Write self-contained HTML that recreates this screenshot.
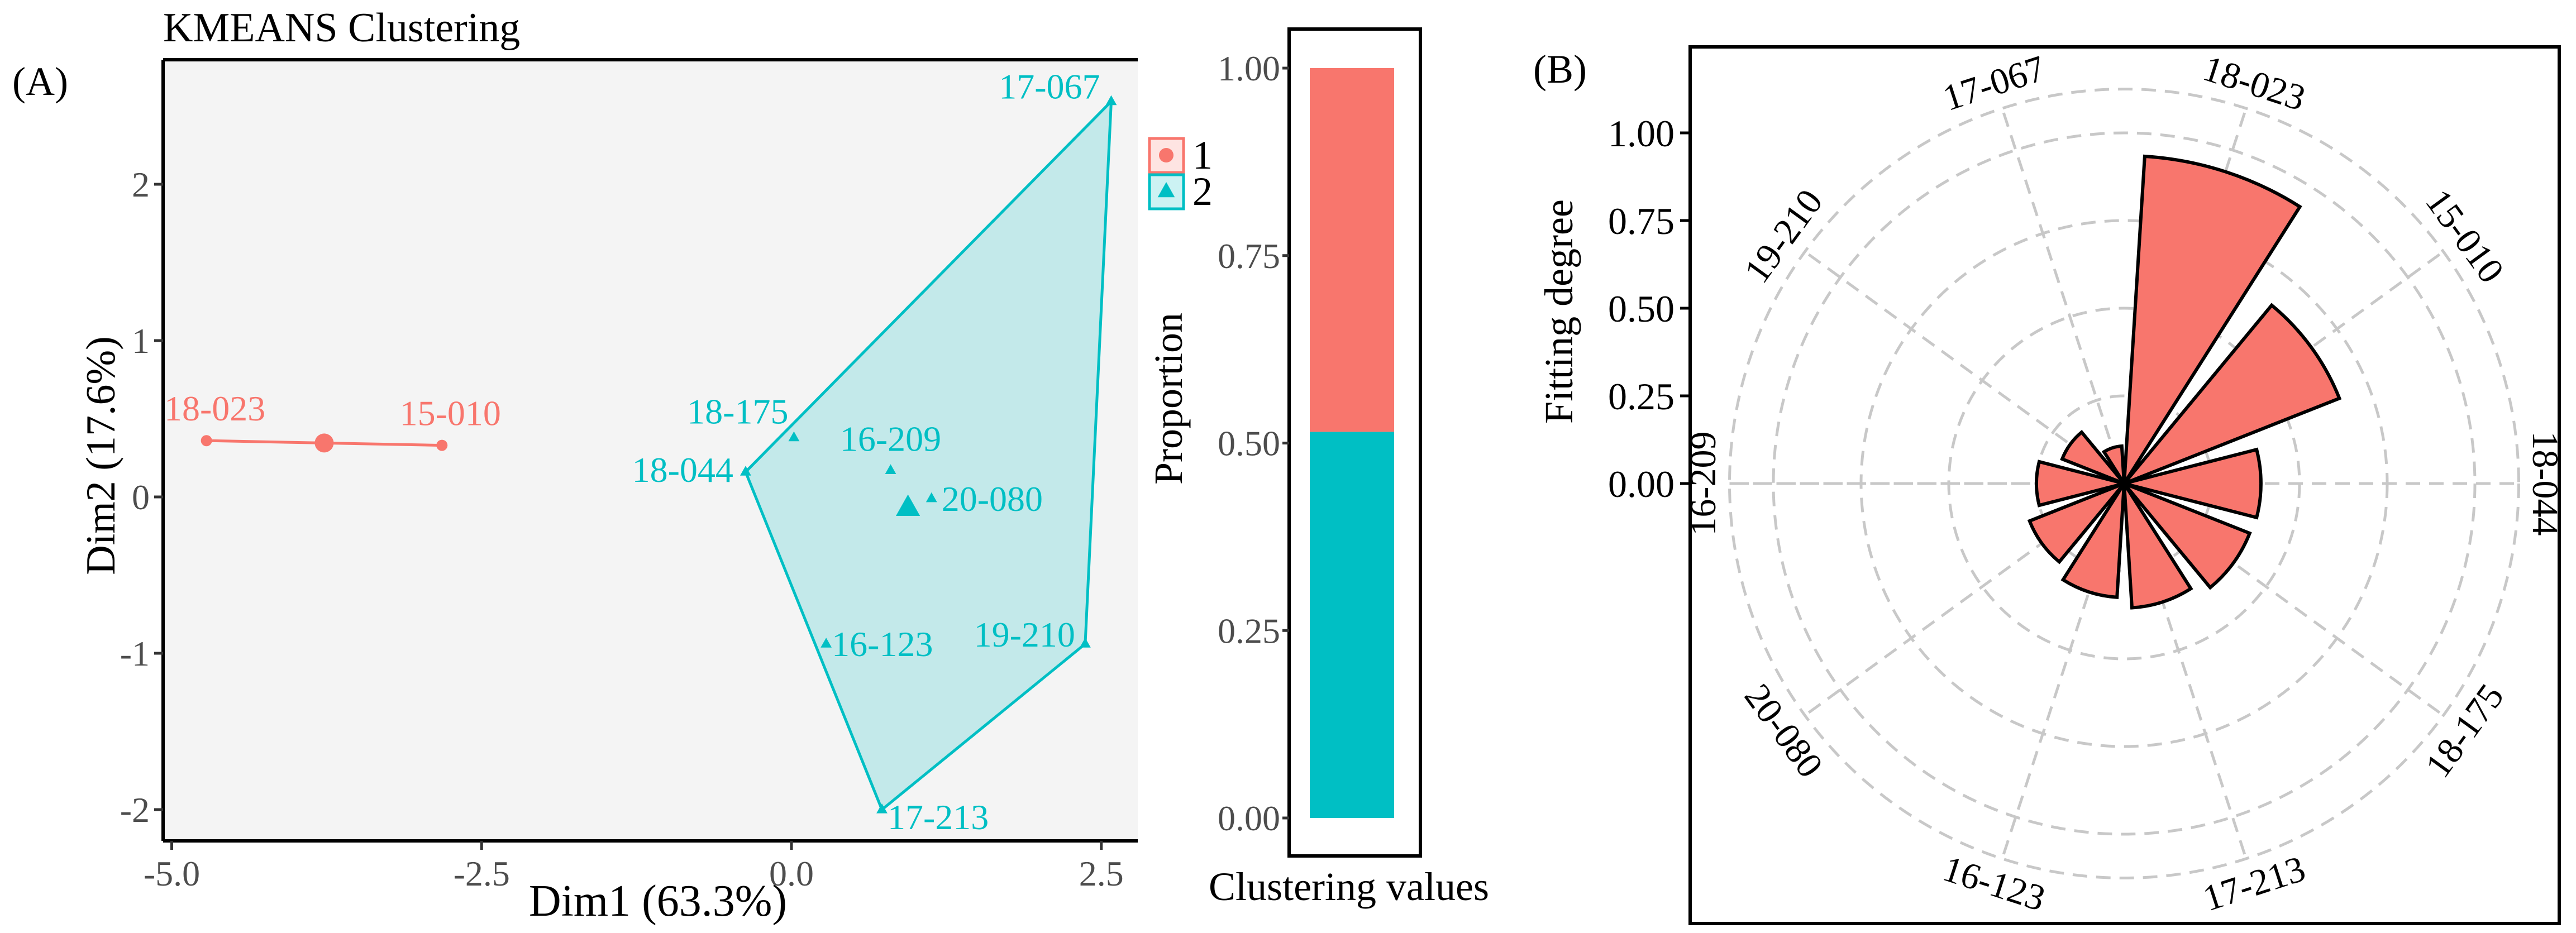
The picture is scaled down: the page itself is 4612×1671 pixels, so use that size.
<!DOCTYPE html>
<html><head><meta charset="utf-8"><style>
html,body{margin:0;padding:0;background:#fff}
svg{display:block;font-family:"Liberation Serif",serif}
</style></head><body>
<svg id="fig" width="4612" height="1671" viewBox="0 0 4612 1671" xmlns="http://www.w3.org/2000/svg">
<text x="22" y="170" font-size="72">(A)</text>
<text x="292" y="74" font-size="74">KMEANS Clustering</text>
<g id="pa"></g>
<g id="pb"></g>
<text x="2745" y="148" font-size="72">(B)</text>
<g id="pc"></g>
</svg>
<script>
// ---- Panel A data ----
const c1Names = ["18-023","15-010"];
const c1X = [-4.72,-2.82];
const c1Y = [0.36,0.33];
const c1Center = [-3.77,0.345];
const c2Names = ["17-067","18-175","18-044","16-209","20-080","16-123","19-210","17-213"];
const c2X = [2.58,0.02,-0.37,0.80,1.13,0.28,2.37,0.73];
const c2Y = [2.53,0.38,0.16,0.17,-0.01,-0.94,-0.94,-2.00];
const c2Center = [0.94,-0.07];
const hullOrder = ["17-067","18-044","17-213","19-210"];
const xTicks = [-5.0,-2.5,0.0,2.5];
const yTicks = [-2,-1,0,1,2];
// ---- Proportion bar ----
const propValues = [0.485,0.515]; // cluster1 (top), cluster2 (bottom)
const propTicks = [0,0.25,0.5,0.75,1.0];
// ---- Polar ----
const polarCats = ["18-023","15-010","18-044","18-175","17-213","16-123","20-080","16-209","19-210","17-067"];
const polarVals = [0.935,0.66,0.39,0.385,0.355,0.325,0.29,0.25,0.19,0.107];
const polarTicks = [0,0.25,0.5,0.75,1.0];

const NS="http://www.w3.org/2000/svg";
function mk(parent,tag,attrs,text){const e=document.createElementNS(NS,tag);for(const k in attrs)e.setAttribute(k,attrs[k]);if(text!==undefined)e.textContent=text;parent.appendChild(e);return e;}
const RED="#F8766D",TEAL="#00BFC4";

// Panel A
const pa=document.getElementById('pa');
const L=292,R=2037,T=107,B=1506;
const sx=v=>1417+v*221.9, sy=v=>890-v*280;
let e=mk(pa,'rect',{x:L,y:T,width:R-L,height:B-T,fill:'#f4f4f4'});

mk(pa,'line',{x1:L,y1:T,x2:R,y2:T,stroke:'#000','stroke-width':6});
mk(pa,'line',{x1:L,y1:T,x2:L,y2:B,stroke:'#000','stroke-width':6});
mk(pa,'line',{x1:L,y1:B,x2:R,y2:B,stroke:'#000','stroke-width':6});
xTicks.forEach(t=>{mk(pa,'line',{x1:sx(t),y1:B,x2:sx(t),y2:B+16,stroke:'#333','stroke-width':5});
 e=mk(pa,'text',{x:sx(t),y:B+80,'font-size':64,'text-anchor':'middle',fill:'#4d4d4d'},t.toFixed(1));
 });
yTicks.forEach(t=>{mk(pa,'line',{x1:L-16,y1:sy(t),x2:L,y2:sy(t),stroke:'#333','stroke-width':5});
 e=mk(pa,'text',{x:L-24,y:sy(t)+22,'font-size':64,'text-anchor':'end',fill:'#4d4d4d'},String(t));
 });
e=mk(pa,'text',{x:1178,y:1640,'font-size':80,'text-anchor':'middle'},'Dim1 (63.3%)');

e=mk(pa,'text',{x:0,y:0,'font-size':74,'text-anchor':'middle',transform:'translate(205,816) rotate(-90)'},'Dim2 (17.6%)');

// hull
const hp=hullOrder.map(n=>{const i=c2Names.indexOf(n);return sx(c2X[i])+','+sy(c2Y[i]);}).join(' ');
e=mk(pa,'polygon',{points:hp,fill:TEAL,'fill-opacity':0.2,stroke:TEAL,'stroke-width':5});

e=mk(pa,'line',{x1:sx(c1X[0]),y1:sy(c1Y[0]),x2:sx(c1X[1]),y2:sy(c1Y[1]),stroke:RED,'stroke-width':5});

function tri(g,x,y,s,col){return mk(g,'polygon',{points:`${x},${y-s} ${x-s*0.9},${y+s*0.6} ${x+s*0.9},${y+s*0.6}`,fill:col});}
c1Names.forEach((n,i)=>{e=mk(pa,'circle',{cx:sx(c1X[i]),cy:sy(c1Y[i]),r:10,fill:RED});
 
 e=mk(pa,'text',{x:sx(c1X[i])+15,y:sy(c1Y[i])-36,'font-size':64,'text-anchor':'middle',fill:RED},n);
 });
e=mk(pa,'circle',{cx:sx(c1Center[0]),cy:sy(c1Center[1]),r:17,fill:RED});

const labPos={"17-067":[-20,-5,'end'],"18-175":[-10,-25,'end'],"18-044":[-22,18,'end'],"16-209":[0,-35,'middle'],"20-080":[18,22,'start'],"16-123":[10,22,'start'],"19-210":[-18,5,'end'],"17-213":[10,35,'start']};
c2Names.forEach((n,i)=>{e=tri(pa,sx(c2X[i]),sy(c2Y[i]),11,TEAL);
 
 const p=labPos[n];
 e=mk(pa,'text',{x:sx(c2X[i])+p[0],y:sy(c2Y[i])+p[1],'font-size':64,'text-anchor':p[2],fill:TEAL},n);
 });
e=tri(pa,sx(c2Center[0]),sy(c2Center[1]),24,TEAL);

// legend
[[RED,'1',248],[TEAL,'2',313]].forEach((d,k)=>{
 e=mk(pa,'rect',{x:2058,y:d[2],width:61,height:61,fill:d[0],'fill-opacity':0.2,stroke:d[0],'stroke-width':5});
 
 if(k==0)mk(pa,'circle',{cx:2088,cy:d[2]+30,r:13,fill:RED});else tri(pa,2088,d[2]+30,17,TEAL);
 e=mk(pa,'text',{x:2135,y:d[2]+54,'font-size':72},d[1]);
 });

// Panel bar
const pb=document.getElementById('pb');
const by=v=>1465-v*1343;
e=mk(pb,'rect',{x:2308,y:52,width:235,height:1481,fill:'none',stroke:'#000','stroke-width':6});

e=mk(pb,'rect',{x:2345,y:by(propValues[1]),width:151,height:by(0)-by(propValues[1]),fill:TEAL});

e=mk(pb,'rect',{x:2345,y:by(propValues[0]+propValues[1]),width:151,height:by(propValues[1])-by(propValues[0]+propValues[1]),fill:RED});

propTicks.forEach(t=>{mk(pb,'line',{x1:2296,y1:by(t),x2:2308,y2:by(t),stroke:'#333','stroke-width':5});
 e=mk(pb,'text',{x:2292,y:by(t)+22,'font-size':64,'text-anchor':'end',fill:'#4d4d4d'},t.toFixed(2));
 });
e=mk(pb,'text',{x:0,y:0,'font-size':72,'text-anchor':'middle',transform:'translate(2116,714) rotate(-90)'},'Proportion');

e=mk(pb,'text',{x:2415,y:1612,'font-size':72,'text-anchor':'middle'},'Clustering values');


// Polar
const pc=document.getElementById('pc');
const CX=3803,CY=866,U=628,step=360/polarCats.length;
const pt=(r,a)=>{const t=a*Math.PI/180;return [CX+r*Math.sin(t),CY-r*Math.cos(t)];};
e=mk(pc,'rect',{x:3026,y:84,width:1556,height:1570,fill:'none',stroke:'#000','stroke-width':6});

[0.25,0.5,0.75,1.0,1.125].forEach(r=>mk(pc,'circle',{cx:CX,cy:CY,r:r*U,fill:'none',stroke:'#c8c8c8','stroke-width':5,'stroke-dasharray':'26 16'}));
polarCats.forEach((c,i)=>{const a=(i+0.5)*step;const p=pt(1.125*U,a);
 mk(pc,'line',{x1:CX,y1:CY,x2:p[0],y2:p[1],stroke:'#c8c8c8','stroke-width':5,'stroke-dasharray':'26 16'});});
mk(pc,'line',{x1:CX-1.125*U,y1:CY,x2:CX,y2:CY,stroke:'#c8c8c8','stroke-width':5,'stroke-dasharray':'26 16'});
polarCats.forEach((c,i)=>{const a0=i*step+0.1*step,a1=(i+1)*step-0.1*step,r=polarVals[i]*U;
 const p0=pt(r,a0),p1=pt(r,a1);
 e=mk(pc,'path',{d:`M${CX},${CY} L${p0[0]},${p0[1]} A${r},${r} 0 0 1 ${p1[0]},${p1[1]} Z`,fill:RED,stroke:'#000','stroke-width':6,'stroke-linejoin':'miter'});
 
 const a=(i+0.5)*step;const lp=pt(1.2*U,a);let rot=(a>90&&a<270)?a-180:a;if(a===270)rot=-90;
 e=mk(pc,'text',{x:lp[0],y:lp[1],'font-size':66,'text-anchor':'middle','dominant-baseline':'central',transform:`rotate(${rot} ${lp[0]} ${lp[1]})`},c);
 });
polarTicks.forEach(t=>{const y=CY-t*U;mk(pc,'line',{x1:3008,y1:y,x2:3026,y2:y,stroke:'#000','stroke-width':5});
 e=mk(pc,'text',{x:2998,y:y+24,'font-size':68,'text-anchor':'end'},t.toFixed(2));
 });
e=mk(pc,'text',{x:0,y:0,'font-size':72,'text-anchor':'middle',transform:'translate(2815,558) rotate(-90)'},'Fitting degree');

</script>
</body></html>
